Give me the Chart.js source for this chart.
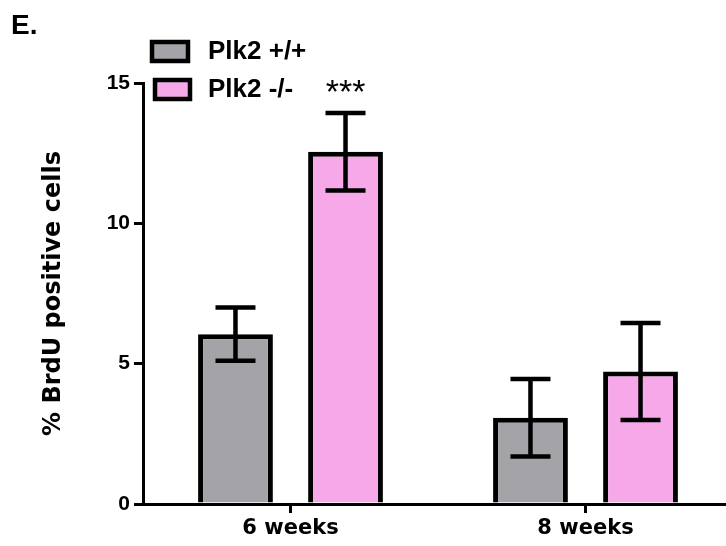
<!DOCTYPE html>
<html>
<head>
<meta charset="utf-8">
<script src="https://cdn.jsdelivr.net/npm/chart.js@4"></script>
<style>
  html, body { margin: 0; padding: 0; background: #fff; overflow: hidden; }
  #wrap { position: relative; width: 726px; height: 546px; overflow: hidden; }
  canvas { position: absolute; left: 0; top: 0; }
</style>
</head>
<body>
<div id="wrap"><canvas id="chart" width="740" height="546"></canvas></div>
<script>
const categories = ['6 weeks', '8 weeks'];
const seriesNames = ['Plk2 +/+', 'Plk2 -/-'];
const wildType = [6.05, 3.07];
const knockout = [12.55, 4.72];
const wildTypeErr = [0.95, 1.38];
const knockoutErr = [1.38, 1.73];
const yTicks = [0, 5, 10, 15];
const significance = ['***', ''];

const grayFill = '#a4a3a8';
const pinkFill = '#f6a8e8';
const errors = [wildTypeErr, knockoutErr];

const extras = {
    id: 'extras',
    afterDatasetsDraw(chart) {
        const ctx = chart.ctx;
        const y = chart.scales.y;
        ctx.save();
        ctx.strokeStyle = '#000';
        ctx.lineWidth = 4.5;

        // error bars
        chart.data.datasets.forEach((ds, i) => {
            chart.getDatasetMeta(i).data.forEach((bar, j) => {
                const hi = y.getPixelForValue(ds.data[j] + errors[i][j]);
                const lo = y.getPixelForValue(ds.data[j] - errors[i][j]);
                ctx.beginPath();
                ctx.moveTo(bar.x, hi);
                ctx.lineTo(bar.x, lo);
                ctx.moveTo(bar.x - 20, hi);
                ctx.lineTo(bar.x + 20, hi);
                ctx.moveTo(bar.x - 20, lo);
                ctx.lineTo(bar.x + 20, lo);
                ctx.stroke();
            });
        });

        // significance stars above the knockout bars
        ctx.fillStyle = '#000';
        ctx.font = '34px "Liberation Sans"';
        ctx.textAlign = 'center';
        ctx.textBaseline = 'alphabetic';
        chart.getDatasetMeta(1).data.forEach((bar, j) => {
            if (!significance[j]) return;
            const hi = y.getPixelForValue(knockout[j] + knockoutErr[j]);
            ctx.fillText(significance[j], bar.x, hi - 10);
        });

        // legend
        const rows = [
            { x: 152, y: 42, w: 36, h: 19, fill: grayFill, ty: 52 },
            { x: 155, y: 80, w: 35, h: 19, fill: pinkFill, ty: 90 }
        ];
        ctx.font = 'bold 26px "Liberation Sans"';
        ctx.textAlign = 'left';
        ctx.textBaseline = 'middle';
        rows.forEach((r, i) => {
            ctx.fillStyle = r.fill;
            ctx.fillRect(r.x, r.y, r.w, r.h);
            ctx.lineWidth = 4.5;
            ctx.strokeRect(r.x, r.y, r.w, r.h);
            ctx.fillStyle = '#000';
            ctx.fillText(seriesNames[i], 208, r.ty);
        });

        // panel letter
        ctx.font = 'bold 28px "Liberation Sans"';
        ctx.textBaseline = 'alphabetic';
        ctx.fillText('E.', 11, 34);
        ctx.restore();
    }
};

new Chart(document.getElementById('chart').getContext('2d'), {
    type: 'bar',
    data: {
        labels: categories,
        datasets: [
            {
                label: seriesNames[0],
                data: wildType,
                backgroundColor: grayFill,
                borderColor: '#000',
                borderWidth: 5
            },
            {
                label: seriesNames[1],
                data: knockout,
                backgroundColor: pinkFill,
                borderColor: '#000',
                borderWidth: 5
            }
        ]
    },
    options: {
        responsive: false,
        animation: false,
        categoryPercentage: 0.746,
        barPercentage: 0.68,
        layout: { padding: { left: 0, right: 7, top: 83, bottom: 0 } },
        plugins: {
            legend: { display: false },
            tooltip: { enabled: false }
        },
        scales: {
            x: {
                offset: true,
                afterFit: scale => { scale.height = 42; },
                grid: {
                    offset: false,
                    drawOnChartArea: false,
                    tickLength: 9,
                    color: '#000',
                    lineWidth: 3
                },
                border: { color: '#000', width: 3 },
                ticks: {
                    color: '#000',
                    padding: 3,
                    font: { family: 'DejaVu Sans', weight: 'bold', size: 21 }
                }
            },
            y: {
                min: 0,
                max: 15,
                afterFit: scale => { scale.width = 143; },
                afterBuildTicks: scale => { scale.ticks = yTicks.map(v => ({ value: v })); },
                grid: {
                    drawOnChartArea: false,
                    tickLength: 9,
                    color: '#000',
                    lineWidth: 3
                },
                border: { color: '#000', width: 3 },
                ticks: {
                    color: '#000',
                    padding: 4,
                    font: { family: 'Liberation Sans', weight: 'bold', size: 21 }
                },
                title: {
                    display: true,
                    text: '% BrdU positive cells',
                    color: '#000',
                    padding: { top: 39, bottom: 0 },
                    font: { family: 'DejaVu Sans', weight: 'bold', size: 24 }
                }
            }
        }
    },
    plugins: [extras]
});
</script>
</body>
</html>
